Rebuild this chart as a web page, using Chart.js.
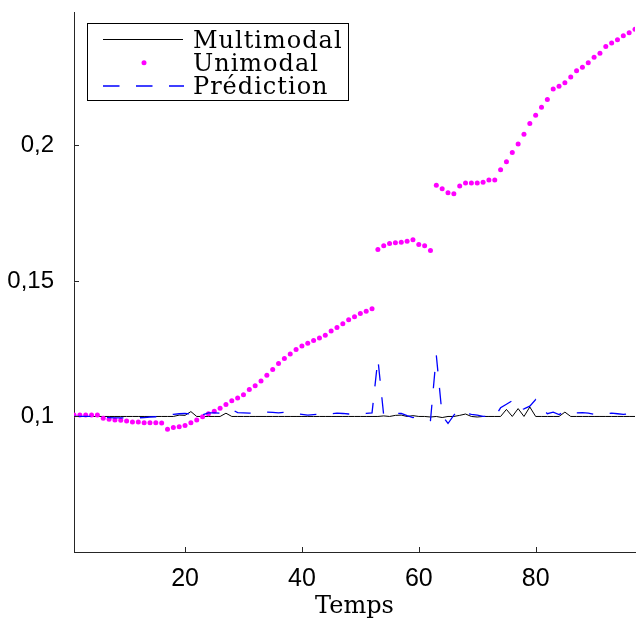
<!DOCTYPE html>
<html>
<head>
<meta charset="utf-8">
<script src="https://cdn.jsdelivr.net/npm/chart.js@4.4.1/dist/chart.umd.min.js"></script>
<style>
  html, body { margin: 0; padding: 0; background: #fff; }
  #wrap { position: relative; width: 639px; height: 621px; }
</style>
</head>
<body>
<div id="wrap"><canvas id="c" width="639" height="621"></canvas></div>
<script>
// Time index (Temps)
const temps = Array.from({length: 97}, (_, i) => i + 1);

const multimodal = [
  0.1,0.1,0.1,0.1,0.1,0.1,0.1,0.1,0.1,0.1,
  0.1,0.1,0.1,0.1,0.1,0.1,0.1,0.1,0.1005,0.1004,
  0.1018,0.1,0.1,0.1,0.1,0.1,0.1012,0.1,0.1,0.1,
  0.1,0.1,0.1,0.1,0.1,0.1,0.1,0.1,0.1,0.1,
  0.1,0.1,0.1,0.1,0.1,0.1,0.1,0.1,0.1,0.1,
  0.1,0.1,0.1,0.1002,0.1,0.1004,0.1005,0.1,0.1003,0.1,
  0.1,0.0998,0.1,0.0996,0.1,0.1,0.1004,0.1009,0.1,0.0998,
  0.1,0.1,0.1,0.1,0.1026,0.1,0.1029,0.1,0.1035,0.1,
  0.1,0.1,0.1,0.1,0.1016,0.1,0.1,0.1,0.1,0.1,
  0.1,0.1,0.1,0.1,0.1,0.1,0.1
];

const unimodal = [
  0.1005,0.1005,0.1005,0.1005,0.1005,0.0993,0.0990,0.0987,0.0986,0.0983,
  0.0980,0.0980,0.0977,0.0977,0.0977,0.0976,0.0953,0.0959,0.0962,0.0967,
  0.0977,0.0987,0.0999,0.1010,0.1019,0.1030,0.1044,0.1058,0.1068,0.1080,
  0.1099,0.1113,0.1131,0.1152,0.1173,0.1195,0.1214,0.1230,0.1247,0.1260,
  0.1270,0.1280,0.1289,0.1300,0.1315,0.1328,0.1342,0.1357,0.1368,0.1380,
  0.1388,0.1397,0.1616,0.1630,0.1638,0.1641,0.1643,0.1646,0.1652,0.1634,
  0.1630,0.1612,0.1853,0.1840,0.1825,0.1822,0.1850,0.1861,0.1861,0.1861,
  0.1864,0.1872,0.1872,0.1910,0.1940,0.1974,0.2005,0.2041,0.2081,0.2111,
  0.2141,0.2169,0.2208,0.2218,0.2231,0.2252,0.2275,0.2288,0.2305,0.2325,
  0.2340,0.2365,0.2378,0.2390,0.2404,0.2415,0.2428
];

const prediction = [
  0.1,0.1,0.1,0.1,0.0999,0.0997,0.0996,0.0995,0.0995,0.0995,
  0.0996,0.0995,0.0996,0.0998,0.0999,0.1,0.1003,0.1008,0.1010,0.1011,
  0.1009,0.1022,0.1006,0.1013,0.1013,0.1012,0.1014,0.1026,0.1014,0.1013,
  0.1012,0.1012,0.1014,0.1016,0.1015,0.1013,0.1015,0.1014,0.1010,0.1008,
  0.1005,0.1007,0.1008,0.1008,0.1010,0.1012,0.1011,0.1009,0.1010,0.1009,
  0.1011,0.1013,0.1212,0.1004,0.1009,0.1012,0.1011,0.1003,0.0996,0.0998,
  0.0995,0.0985,0.1226,0.1003,0.0974,0.1005,0.1024,0.1012,0.1008,0.1005,
  0.1,0.1,0.0998,0.1032,0.1045,0.1058,0.1025,0.1028,0.1038,0.1062,
  0.1033,0.1010,0.1016,0.1007,0.1019,0.1012,0.1013,0.1014,0.1012,0.1008,
  0.1008,0.1010,0.1012,0.1010,0.1008,0.1010,0.1011
];

const xTicks = [20, 40, 60, 80];
const yTicks = [0.1, 0.15, 0.2];
const seriesNames = ['Multimodal', 'Unimodal', 'Prédiction'];
const xTitle = 'Temps';

const pts = arr => arr.map((v, i) => ({x: temps[i], y: v}));

const AXIS_COLOR = '#262626';

const extrasPlugin = {
  id: 'extras',
  afterDatasetsDraw(chart) {
    const ctx = chart.ctx;
    const xs = chart.scales.x, ys = chart.scales.y;
    const area = chart.chartArea;
    ctx.save();
    // inward tick marks
    ctx.strokeStyle = AXIS_COLOR;
    ctx.lineWidth = 1;
    ctx.beginPath();
    xTicks.forEach(t => {
      const px = Math.round(xs.getPixelForValue(t)) + 0.5;
      ctx.moveTo(px, area.bottom);
      ctx.lineTo(px, area.bottom - 5);
    });
    yTicks.forEach(t => {
      const py = Math.round(ys.getPixelForValue(t)) + 0.5;
      ctx.moveTo(area.left, py);
      ctx.lineTo(area.left + 5, py);
    });
    ctx.stroke();

    // legend box
    const bx = 87.5, by = 23.5, bw = 261, bh = 77;
    ctx.fillStyle = '#fff';
    ctx.fillRect(bx, by, bw, bh);
    ctx.strokeStyle = '#000';
    ctx.lineWidth = 1;
    ctx.strokeRect(bx, by, bw, bh);

    const rows = [39.5, 62.7, 86];
    // Multimodal line sample
    ctx.beginPath();
    ctx.strokeStyle = '#000';
    ctx.lineWidth = 1;
    ctx.moveTo(103, rows[0]);
    ctx.lineTo(183, rows[0]);
    ctx.stroke();
    // Unimodal dot
    ctx.beginPath();
    ctx.fillStyle = '#ff00ff';
    ctx.arc(144, rows[1], 2.5, 0, Math.PI * 2);
    ctx.fill();
    // Prediction dashes
    ctx.beginPath();
    ctx.strokeStyle = '#0000ff';
    ctx.lineWidth = 1.3;
    ctx.setLineDash([16.5, 16.5]);
    ctx.moveTo(103, rows[2]);
    ctx.lineTo(184, rows[2]);
    ctx.stroke();
    ctx.setLineDash([]);

    ctx.fillStyle = '#000';
    ctx.font = '24px "DejaVu Serif"';
    if ('letterSpacing' in ctx) ctx.letterSpacing = '1px';
    ctx.textAlign = 'left';
    ctx.textBaseline = 'alphabetic';
    seriesNames.forEach((n, i) => ctx.fillText(n, 193, rows[i] + 8.3));
    ctx.restore();
  }
};

Chart.defaults.font.family = '"Liberation Sans", Arial, sans-serif';
Chart.defaults.color = '#000';

new Chart(document.getElementById('c'), {
  type: 'line',
  data: {
    datasets: [
      {
        label: seriesNames[0],
        data: pts(multimodal),
        borderColor: '#000000',
        borderWidth: 1,
        pointRadius: 0,
        tension: 0,
        order: 3
      },
      {
        label: seriesNames[1],
        data: pts(unimodal),
        showLine: false,
        pointRadius: 2.5,
        pointBorderWidth: 0,
        pointBackgroundColor: '#ff00ff',
        pointBorderColor: '#ff00ff',
        backgroundColor: '#ff00ff',
        borderColor: '#ff00ff',
        order: 2
      },
      {
        label: seriesNames[2],
        data: pts(prediction),
        borderColor: '#0000ff',
        borderWidth: 1.3,
        borderDash: [16.5, 16.5],
        pointRadius: 0,
        tension: 0,
        order: 1
      }
    ]
  },
  options: {
    responsive: false,
    animation: false,
    events: [],
    layout: { padding: { top: 12, right: 2, left: 0, bottom: 0 } },
    plugins: {
      legend: { display: false },
      tooltip: { enabled: false }
    },
    scales: {
      x: {
        type: 'linear',
        min: 1,
        max: 97,
        afterFit: s => { s.height = 69; s.paddingLeft = 0; s.paddingRight = 0; },
        afterBuildTicks: s => { s.ticks = xTicks.map(v => ({value: v})); },
        grid: { display: false },
        border: { display: true, color: AXIS_COLOR, width: 1 },
        ticks: {
          font: { size: 25 },
          color: '#000',
          padding: 4,
          maxRotation: 0,
          autoSkip: false,
          callback: v => String(v)
        },
        title: {
          display: true,
          text: xTitle,
          font: { family: '"DejaVu Serif"', size: 24 },
          color: '#000',
          padding: { top: 0, bottom: 0 }
        }
      },
      y: {
        type: 'linear',
        min: 0.05,
        max: 0.2492,
        afterFit: s => { s.width = 74; s.paddingTop = 0; s.paddingBottom = 0; },
        afterBuildTicks: s => { s.ticks = yTicks.map(v => ({value: v})); },
        grid: { display: false },
        border: { display: true, color: AXIS_COLOR, width: 1 },
        ticks: {
          font: { size: 24 },
          color: '#000',
          padding: 12,
          autoSkip: false,
          callback: v => String(v).replace('.', ',')
        }
      }
    }
  },
  plugins: [extrasPlugin]
});
</script>
</body>
</html>
